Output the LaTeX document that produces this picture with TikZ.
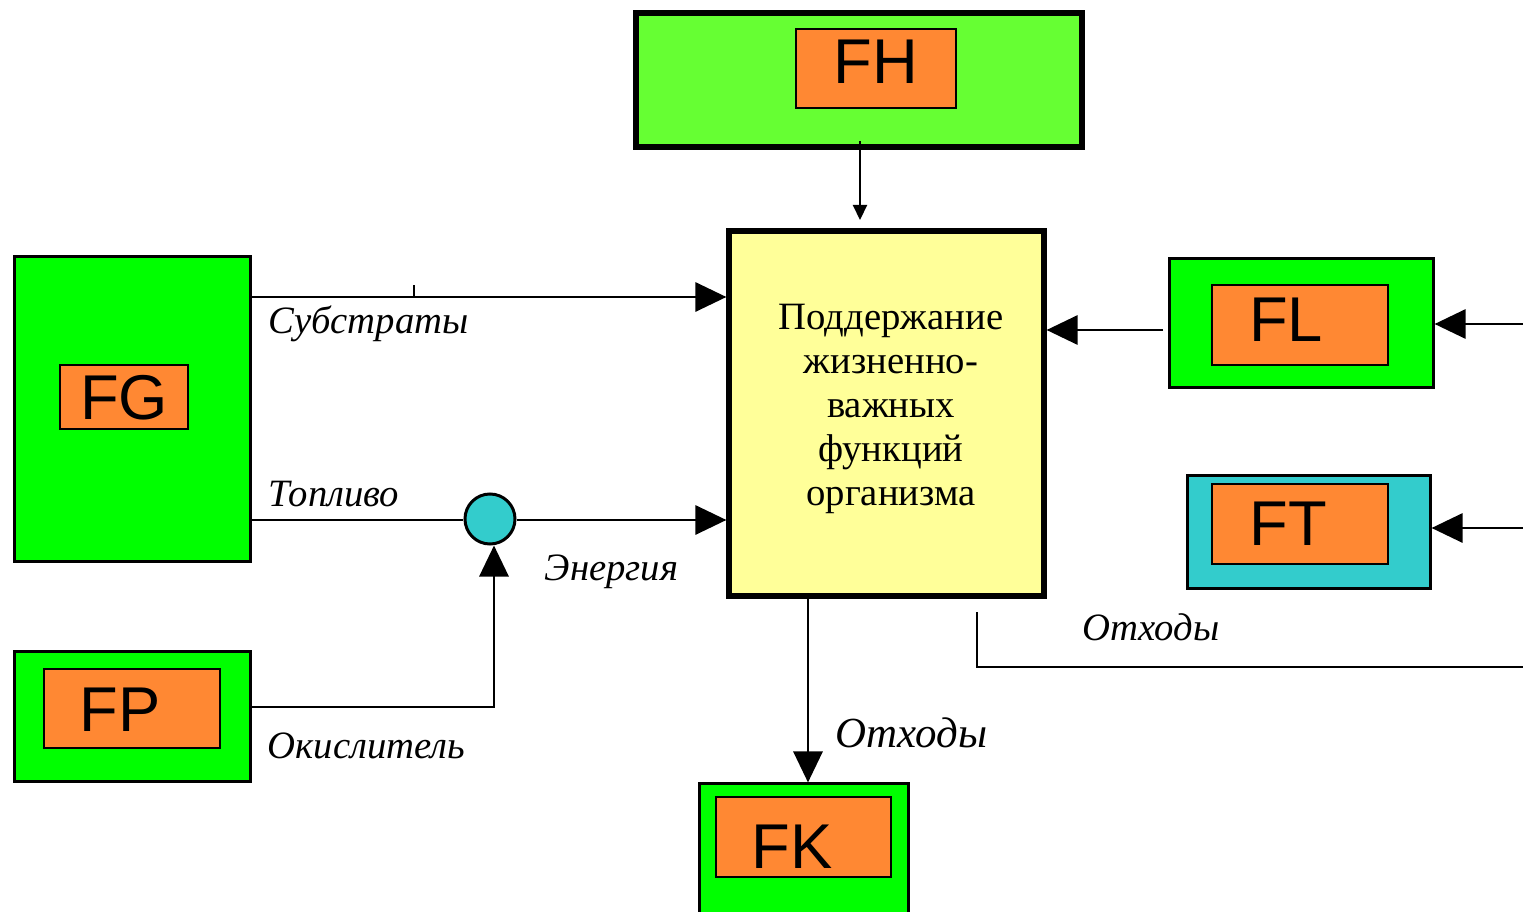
\documentclass[tikz,border=0pt]{standalone}
\usepackage{fontspec}
\setmainfont{Liberation Serif}
\newfontfamily\boxfont{Liberation Sans}
\usetikzlibrary{arrows.meta}
\definecolor{gA}{HTML}{00FF00}
\definecolor{gB}{HTML}{66FF33}
\definecolor{orA}{HTML}{FF8833}
\definecolor{yelA}{HTML}{FFFF99}
\definecolor{cyA}{HTML}{33CCCC}
\tikzset{
  outerbox/.style={draw=black, line width=0.85pt, inner sep=0pt},
  innerbox/.style={draw=black, line width=0.6pt, fill=orA, inner sep=0pt},
  boxlabel/.style={font=\boxfont\fontsize{18}{20}\selectfont, inner sep=0pt},
  flowlabel/.style={font=\itshape\fontsize{11}{13}\selectfont, inner sep=0pt, anchor=base west},
  conn/.style={line width=0.85pt},
  bigtip/.style={-{Triangle[length=0.31cm,width=0.29cm]}},
}
\begin{document}
\begin{tikzpicture}[x=0.01cm,y=-0.01cm]
\useasboundingbox (0,0) rectangle (1523,912);
% FH
\node[outerbox, line width=1.7pt, fill=gB, minimum width=4.46cm, minimum height=1.34cm] (fh) at (859,80) {};
\node[innerbox, minimum width=1.60cm, minimum height=0.79cm] (fhi) at (876,68.5) {};
\node[boxlabel] (fht) at (876,62) {FH};
% main
\node[draw=black, line width=1.7pt, fill=yelA, minimum width=3.14cm, minimum height=3.64cm, inner sep=0pt] (main) at (886.5,413.5) {};
\node[align=center, font=\fontsize{11}{12.5}\selectfont, inner sep=0pt] (maint) at (891,409) {Поддержание\\жизненно-\\важных\\функций\\организма};
% FG
\node[outerbox, fill=gA, minimum width=2.35cm, minimum height=3.04cm] (fg) at (132.5,409) {};
\node[innerbox, minimum width=1.28cm, minimum height=0.64cm] (fgi) at (124,397) {};
\node[boxlabel] (fgt) at (124,398) {FG};
% FP
\node[outerbox, fill=gA, minimum width=2.35cm, minimum height=1.29cm] (fp) at (132.5,716.5) {};
\node[innerbox, minimum width=1.76cm, minimum height=0.79cm] (fpi) at (132,708.5) {};
\node[boxlabel] (fpt) at (120,710) {FP};
% FK
\node[outerbox, fill=gA, minimum width=2.08cm, minimum height=1.36cm] (fk) at (804,852) {};
\node[innerbox, minimum width=1.75cm, minimum height=0.80cm] (fki) at (803.5,837) {};
\node[boxlabel] (fkt) at (792,847) {FK};
% FL
\node[outerbox, fill=gA, minimum width=2.63cm, minimum height=1.28cm] (fl) at (1301.5,323) {};
\node[innerbox, minimum width=1.76cm, minimum height=0.80cm] (fli) at (1300,325) {};
\node[boxlabel] (flt) at (1286,320) {FL};
% FT
\node[outerbox, fill=cyA, minimum width=2.42cm, minimum height=1.12cm] (ft) at (1309,532) {};
\node[innerbox, minimum width=1.76cm, minimum height=0.80cm] (fti) at (1300,524) {};
\node[boxlabel] (ftt) at (1288,524) {FT};
% mixer circle
\node[circle, draw=black, line width=0.85pt, fill=cyA, minimum size=0.5cm, inner sep=0pt] (mix) at (490,519) {};
% free ends
\coordinate (fhs) at (860,141);
\coordinate (mtop) at (860,220);
\coordinate (tick) at (414,285);
\coordinate (flin) at (1523,324);
\coordinate (ftin) at (1523,528);
\coordinate (wst) at (977,612);
\coordinate (wcorner) at (977,667);
\coordinate (wend) at (1523,667);
\coordinate (flout) at (1163,330);
\coordinate (okcorner) at (494,707);
% connectors
\draw[conn, line width=0.6pt, -{Triangle[length=0.15cm,width=0.14cm]}] (fhs) -- (mtop);
\draw[conn, bigtip] (fg.east |- 0,297) -- (main.west |- 0,297);
\draw[conn] (tick) -- (414,297);
\draw[conn] (fg.east |- 0,520) -- (mix.west |- 0,520);
\draw[conn, bigtip] (mix.east |- 0,520) -- (main.west |- 0,520);
\draw[conn, bigtip] (fp.east |- okcorner) -- (okcorner) -- (okcorner |- mix.south);
\draw[conn, bigtip] (main.south -| 808,0) -- (fk.north -| 808,0);
\draw[conn, bigtip] (flout) -- (main.east |- flout);
\draw[conn, bigtip] (flin) -- (fl.east |- flin);
\draw[conn, bigtip] (ftin) -- (ft.east |- ftin);
\draw[conn] (wst) -- (wcorner) -- (wend);
% labels
\node[flowlabel] (lsub) at (268,333) {Субстраты};
\node[flowlabel] (ltop) at (268,506) {Топливо};
\node[flowlabel] (lene) at (544,580) {Энергия};
\node[flowlabel] (lokis) at (267,758) {Окислитель};
\node[flowlabel, font=\itshape\fontsize{12.2}{15}\selectfont] (lotx1) at (835,747) {Отходы};
\node[flowlabel] (lotx2) at (1082,640) {Отходы};
\end{tikzpicture}
\end{document}
